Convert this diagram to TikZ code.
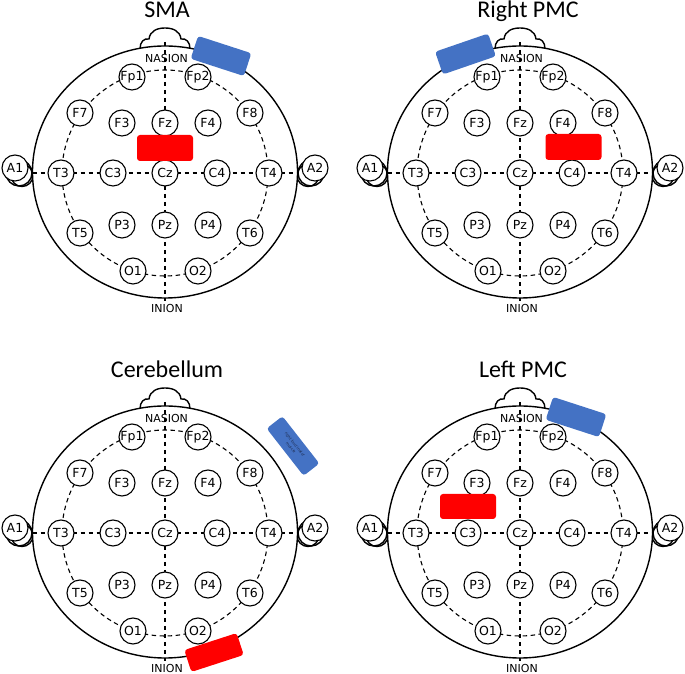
\documentclass[tikz,border=0pt]{standalone}
\usepackage{fontspec}
\setmainfont{DejaVu Sans}
\newfontfamily\titlefont{Carlito}
\definecolor{eblue}{HTML}{4472C4}
\definecolor{ered}{HTML}{FF0000}
\definecolor{padtext}{HTML}{1F2D50}
\tikzset{
  elec/.style={circle, draw, line width=1.1pt, fill=white, minimum size=26pt, inner sep=0pt, font=\fontsize{12.5}{12.5}\selectfont},
  headline/.style={line width=1.4pt},
  guide/.style={line width=1.1pt, dash pattern=on 4.5pt off 3.5pt},
  lbl/.style={font=\fontsize{11}{11}\selectfont, inner sep=0pt, anchor=base},
  ttl/.style={font=\titlefont\fontsize{24}{24}\selectfont, inner sep=0pt, anchor=base},
  bluepad/.style={fill=eblue, rounded corners=3pt, minimum width=56pt, minimum height=24pt, inner sep=0pt},
  redpad/.style={fill=ered, rounded corners=3pt, minimum width=56pt, minimum height=26pt, inner sep=0pt},
}
\newcommand{\eegpanel}[3]{%
  \node[ttl] (#1-title) at (#3,155) {#2};
  % ears
  \begin{scope}
    \clip (-175,-40) rectangle (-132.3,40);
    \draw[headline] (-146,0) circle (13pt);
    \draw[headline] (-143,-2.5) circle (11pt);
  \end{scope}
  \begin{scope}
    \clip (132.3,-40) rectangle (175,40);
    \draw[headline] (146,0) circle (13pt);
    \draw[headline] (143,-2.5) circle (11pt);
  \end{scope}
  % head
  \draw[headline] (0,1) ellipse [x radius=132.5pt, y radius=126pt];
  % nose
  \draw[headline] (-25,124.3) .. controls (-25,131) and (-21,135) .. (-16,134)
    .. controls (-15,142) and (-8,145) .. (0,145)
    .. controls (8,145) and (15,142) .. (16,134)
    .. controls (21,135) and (25,131) .. (25,124.3);
  % guides
  \coordinate (#1-top) at (0,131);
  \coordinate (#1-bot) at (0,-128);
  \coordinate (#1-left) at (-132.5,0);
  \coordinate (#1-right) at (132.5,0);
  \draw[guide] (#1-top) -- (#1-bot);
  \draw[guide] (#1-left) -- (#1-right);
  \draw[guide] (0,0) circle (103pt);
  \node[lbl] (#1-nasion) at (1.5,110) {NASION};
  \node[lbl] (#1-inion) at (2,-139.5) {INION};
  \foreach \n/\x/\y in {Fp1/-33/96, Fp2/33/96, F7/-85/60, F3/-43/50, Fz/0/50, F4/43/50, F8/85/60,
      A1/-150/5, T3/-104/0, C3/-52/0, Cz/0/0, C4/52/0, T4/104/0, A2/150/5,
      T5/-85/-60, P3/-43/-52, Pz/0/-52, P4/43/-52, T6/85/-60, O1/-32/-98, O2/33/-98}
    \node[elec] (#1-\n) at (\x,\y) {\n};
}
\begin{document}
\begin{tikzpicture}[x=1pt,y=1pt]
\fill[white] (0,0) rectangle (685,674);
\useasboundingbox (0,0) rectangle (685,674);

% SMA
\begin{scope}[shift={(165,501)}]
  \eegpanel{a}{SMA}{2}
  \node[bluepad, rotate=-18] (a-blue) at (56,117) {};
  \node[redpad] (a-red) at (0,25) {};
\end{scope}

% Right PMC
\begin{scope}[shift={(520,501)}]
  \eegpanel{b}{Right PMC}{8}
  \node[bluepad, rotate=19] (b-blue) at (-54.5,119) {};
  \node[redpad] (b-red) at (53.5,26) {};
\end{scope}

% Cerebellum
\begin{scope}[shift={(165,141)}]
  \eegpanel{c}{Cerebellum}{2}
  \node[bluepad, rotate=-52, minimum width=60pt, minimum height=20pt, align=center,
        text=padtext, font=\fontsize{3.8}{5.2}\selectfont] (c-blue) at (128,87) {right buccinator\\muscle};
  \node[redpad, rotate=18, minimum width=55pt, minimum height=23pt] (c-red) at (49,-119.5) {};
\end{scope}

% Left PMC
\begin{scope}[shift={(520,141)}]
  \eegpanel{d}{Left PMC}{3}
  \node[bluepad, rotate=-18] (d-blue) at (56,116) {};
  \node[redpad, minimum height=25pt] (d-red) at (-52,26.5) {};
\end{scope}
\end{tikzpicture}
\end{document}
